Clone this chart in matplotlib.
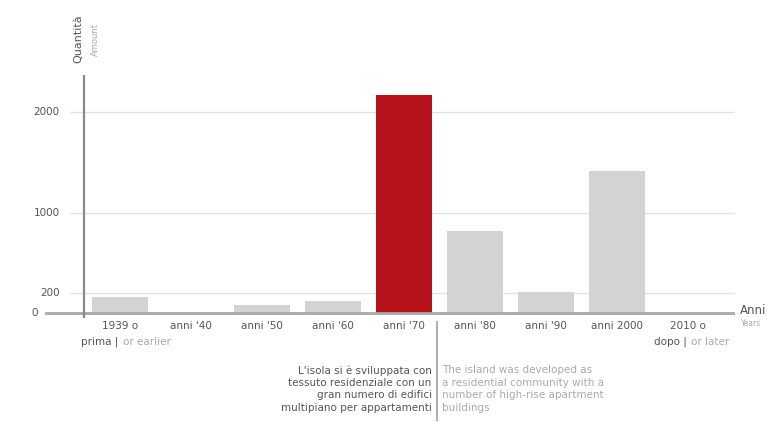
import matplotlib.pyplot as plt
from matplotlib.transforms import blended_transform_factory

categories = ["1939 o", "anni '40", "anni '50", "anni '60", "anni '70",
              "anni '80", "anni '90", "anni 2000", "2010 o"]
second_line_it = ["prima |", "", "", "", "", "", "", "", "dopo |"]
second_line_en = ["or earlier", "", "", "", "", "", "", "", "or later"]
values = [160, 0, 80, 120, 2170, 820, 210, 1410, 0]
highlight = "anni '70"
yticks = [0, 200, 1000, 2000]

note_it = ("L'isola si è sviluppata con\ntessuto residenziale con un\n"
           "gran numero di edifici\nmultipiano per appartamenti")
note_en = ("The island was developed as\na residential community with a\n"
           "number of high-rise apartment\nbuildings")

plt.rcParams['font.family'] = ['DejaVu Sans']

fig = plt.figure(figsize=(7.74, 4.22), dpi=100)
ax = fig.add_axes([45 / 774, 1 - 319 / 422, 690 / 774, 244 / 422])

x = list(range(len(categories)))
colors = ['#b5121b' if c == highlight else '#d3d3d3' for c in categories]

ax.set_xlim(-1.056, 8.662)
ax.set_ylim(-60, 2370)

for v in yticks[1:]:
    ax.hlines(v, -0.7, 8.662, color='#e2e2e2', lw=1, zorder=0)
ax.bar(x, values, width=0.8, color=colors, zorder=2)
ax.axhline(0, color='#a8a8a8', lw=2, zorder=3)
ax.vlines(-0.507, -50, 2370, color='#8a8a8a', lw=1.6, zorder=4)

for s in ax.spines.values():
    s.set_visible(False)
ax.set_xticks([])
ax.set_yticks([])

# y labels
for v in yticks:
    xpos = -1.16 if v == 0 else -0.85
    ax.text(xpos, v, str(v), ha='right', va='center', fontsize=7.5, color='#555555')

trans = blended_transform_factory(ax.transData, fig.transFigure)
for i, c in enumerate(categories):
    ax.text(i, 1 - 326 / 422, c, transform=trans, ha='center', va='center',
            fontsize=7.5, color='#555555')
    if second_line_it[i]:
        ax.text(i - 0.02, 1 - 342 / 422, second_line_it[i], transform=trans,
                ha='right', va='center', fontsize=7.5, color='#555555')
        ax.text(i + 0.04, 1 - 342 / 422, second_line_en[i], transform=trans,
                ha='left', va='center', fontsize=7.5, color='#aaaaaa')

# axis titles
fig.text(78 / 774, 1 - 39 / 422, 'Quantità', rotation=90, ha='center', va='center',
         fontsize=8, color='#555555')
fig.text(95 / 774, 1 - 39 / 422, 'Amount', rotation=90, ha='center', va='center',
         fontsize=6, color='#aaaaaa')
fig.text(740 / 774, 1 - 311 / 422, 'Anni', ha='left', va='center',
         fontsize=8.5, color='#555555')
fig.text(741 / 774, 1 - 324 / 422, 'Years', ha='left', va='center',
         fontsize=5.5, color='#aaaaaa')

# note
ax.plot([4.46, 4.46], [1 - 322 / 422, 1 - 420 / 422], transform=trans,
        color='#b0b0b0', lw=1.5, clip_on=False)
ax.text(4.39, 1 - 389 / 422, note_it, transform=trans, ha='right', va='center',
        fontsize=7.5, color='#555555', linespacing=1.3)
ax.text(4.53, 1 - 389 / 422, note_en, transform=trans, ha='left', va='center',
        fontsize=7.5, color='#aaaaaa', linespacing=1.3)

fig.savefig('out.png', dpi=100)
